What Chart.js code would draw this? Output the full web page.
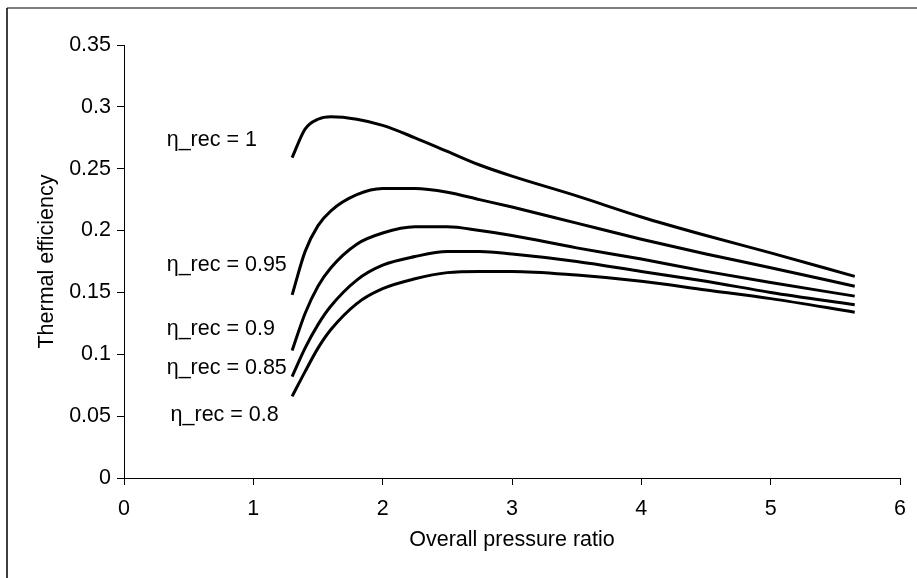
<html>
  <head>
    <title>Thermal efficiency</title>
    <script src="https://cdn.jsdelivr.net/npm/chart.js@4.4.0/dist/chart.umd.min.js"></script>
    <style>
      body { margin: 0; background: #fff; }
      #wrap { width: 917px; height: 578px; position: relative; }
    </style>
  </head>
  <body>
    <div id="wrap"><canvas id="chart" width="917" height="578"></canvas></div>
  </body>

  <script>
    var ratio = [1.3, 1.4, 1.5, 1.6, 1.8, 2.0, 2.25, 2.5, 2.75, 3.0, 3.5, 4.0, 4.5, 5.0, 5.65];

    var eff100 = [0.259, 0.282, 0.290, 0.292, 0.290, 0.285, 0.275, 0.264, 0.253, 0.244, 0.228, 0.211, 0.196, 0.182, 0.163];
    var eff095 = [0.148, 0.183, 0.204, 0.216, 0.229, 0.234, 0.234, 0.231, 0.225, 0.219, 0.206, 0.193, 0.181, 0.170, 0.155];
    var eff090 = [0.103, 0.133, 0.155, 0.170, 0.189, 0.198, 0.203, 0.203, 0.200, 0.196, 0.186, 0.177, 0.167, 0.158, 0.147];
    var eff085 = [0.082, 0.105, 0.124, 0.139, 0.160, 0.172, 0.179, 0.183, 0.183, 0.181, 0.175, 0.167, 0.159, 0.150, 0.140];
    var eff080 = [0.066, 0.086, 0.105, 0.120, 0.141, 0.153, 0.161, 0.166, 0.167, 0.167, 0.164, 0.159, 0.152, 0.145, 0.134];

    var seriesNames = ["η_rec = 1", "η_rec = 0.95", "η_rec = 0.9", "η_rec = 0.85", "η_rec = 0.8"];
    // where each curve label sits (in axis units)
    var labelX = [0.33, 0.33, 0.33, 0.33, 0.36];
    var labelY = [0.273, 0.172, 0.120, 0.089, 0.051];

    var xTicks = [0, 1, 2, 3, 4, 5, 6];
    var yTicks = [0, 0.05, 0.1, 0.15, 0.2, 0.25, 0.3, 0.35];

    var FONT = "'Liberation Sans', Arial, sans-serif";
    var FSIZE = 21.5;

    function toPoints(ys) {
      var pts = [];
      for (var i = 0; i < ratio.length; i++) pts.push({x: ratio[i], y: ys[i]});
      return pts;
    }

    var allSeries = [eff100, eff095, eff090, eff085, eff080];
    var datasets = [];
    for (var i = 0; i < allSeries.length; i++) {
      datasets.push({
        label: seriesNames[i],
        data: toPoints(allSeries[i]),
        borderColor: "#000",
        borderWidth: 3,
        pointRadius: 0,
        fill: false,
        cubicInterpolationMode: "monotone"
      });
    }

    var decorPlugin = {
      id: "decor",
      beforeDraw: function(chart) {
        var ctx = chart.ctx;
        ctx.save();
        ctx.fillStyle = "#fff";
        ctx.fillRect(0, 0, chart.width, chart.height);
        // frame edges left over from the scan
        ctx.strokeStyle = "#555";
        ctx.lineWidth = 1.5;
        ctx.beginPath();
        ctx.moveTo(7, 8);
        ctx.lineTo(917, 8);
        ctx.stroke();
        ctx.strokeStyle = "#000";
        ctx.beginPath();
        ctx.moveTo(7, 8);
        ctx.lineTo(7, 578);
        ctx.stroke();
        ctx.restore();
      },
      afterDraw: function(chart) {
        var ctx = chart.ctx;
        var xs = chart.scales.x, ys = chart.scales.y;
        ctx.save();
        ctx.fillStyle = "#000";
        ctx.font = FSIZE + "px " + FONT;
        ctx.textAlign = "left";
        ctx.textBaseline = "middle";
        for (var i = 0; i < seriesNames.length; i++) {
          ctx.fillText(seriesNames[i], xs.getPixelForValue(labelX[i]), ys.getPixelForValue(labelY[i]));
        }
        ctx.restore();
      }
    };

    new Chart(document.getElementById("chart"), {
      type: "line",
      data: { datasets: datasets },
      options: {
        responsive: false,
        animation: false,
        layout: { padding: { left: 0, top: 45, right: 17, bottom: 0 } },
        plugins: { legend: { display: false }, tooltip: { enabled: false } },
        scales: {
          x: {
            type: "linear",
            min: 0, max: 6,
            afterBuildTicks: function(s) { s.ticks = xTicks.map(function(v) { return {value: v}; }); },
            afterFit: function(s) { s.height = 100; },
            grid: { display: true, drawOnChartArea: false, drawTicks: true, tickLength: 7, color: "#000" },
            border: { display: true, color: "#000", width: 1 },
            ticks: { color: "#000", padding: 11, font: { family: FONT, size: FSIZE }, maxRotation: 0 },
            title: { display: true, text: "Overall pressure ratio", color: "#000", font: { family: FONT, size: FSIZE }, padding: { top: 0, bottom: 25 } }
          },
          y: {
            type: "linear",
            min: 0, max: 0.35,
            afterBuildTicks: function(s) { s.ticks = yTicks.map(function(v) { return {value: v}; }); },
            afterFit: function(s) { s.width = 124; },
            grid: { display: true, drawOnChartArea: false, drawTicks: true, tickLength: 7, color: "#000" },
            border: { display: true, color: "#000", width: 1 },
            ticks: {
              color: "#000", padding: 6, font: { family: FONT, size: FSIZE },
              callback: function(v) { return String(Number(v.toFixed(2))); }
            },
            title: { display: true, text: "Thermal efficiency", color: "#000", font: { family: FONT, size: FSIZE }, padding: { top: 34, bottom: 0 } }
          }
        }
      },
      plugins: [decorPlugin]
    });
  </script>
</html>
